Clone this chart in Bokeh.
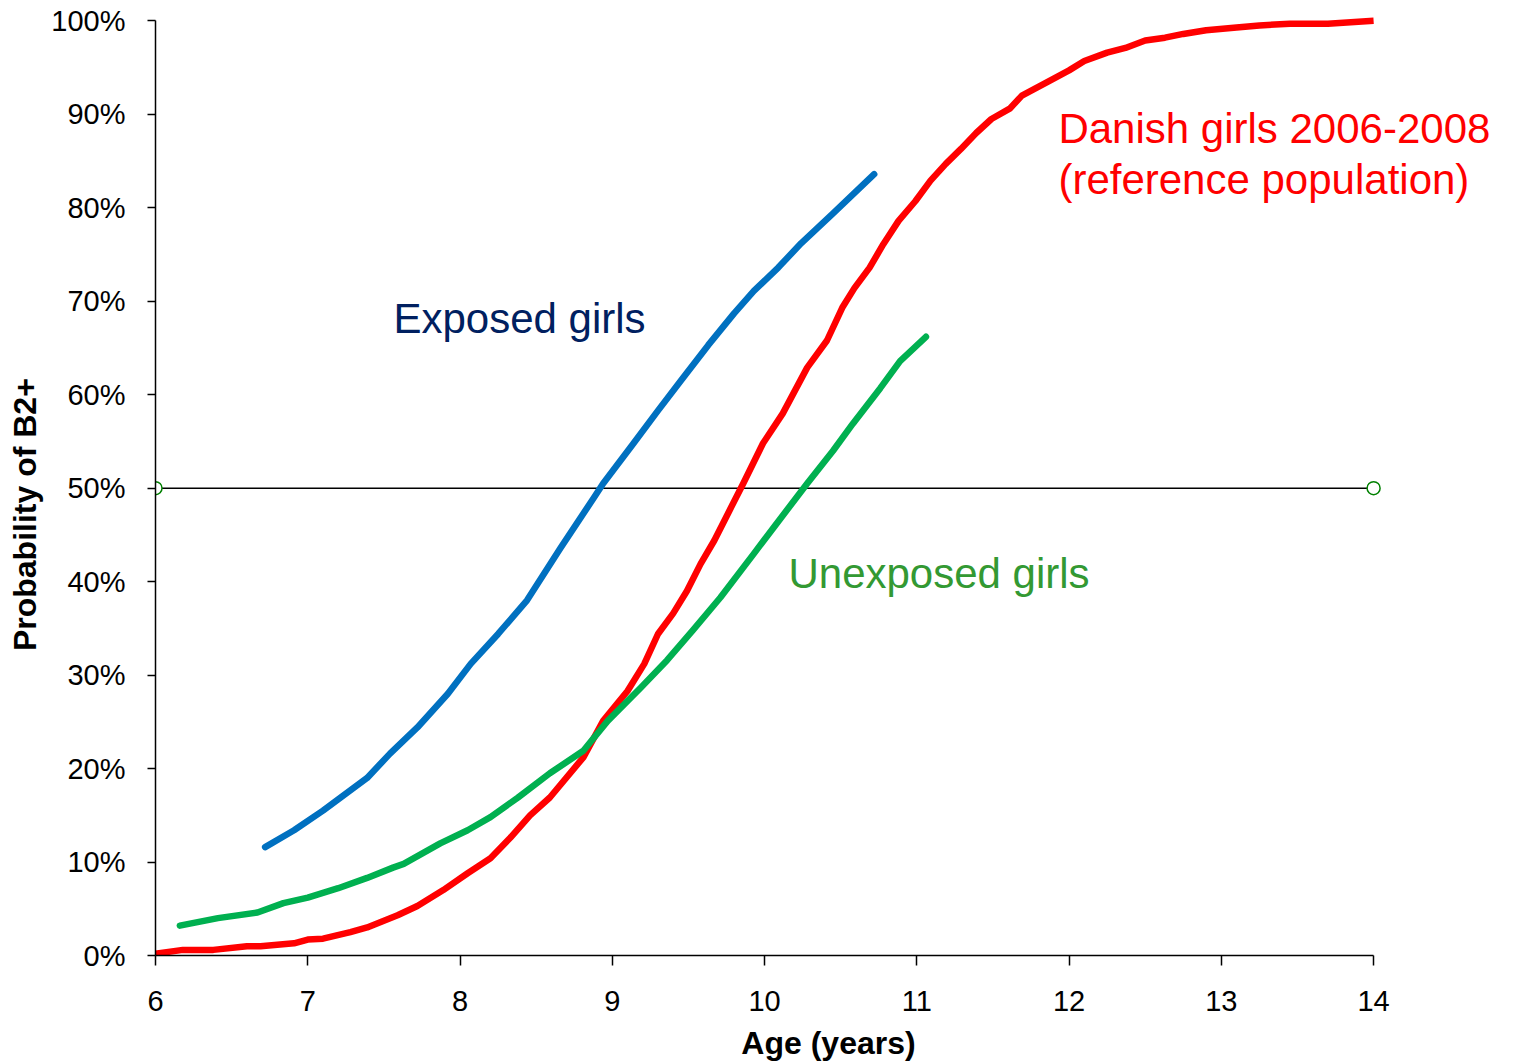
from bokeh.plotting import figure
from bokeh.models import Range1d, FixedTicker, Label
from bokeh.embed import file_html
from bokeh.resources import INLINE

# ---- data ----
ref_age = [6.00, 6.18, 6.38, 6.60, 6.69, 6.91, 7.00, 7.10, 7.28, 7.39,
           7.59, 7.72, 7.89, 8.05, 8.20, 8.33, 8.46, 8.59, 8.81, 8.94,
           9.10, 9.21, 9.30, 9.40, 9.49, 9.58, 9.67, 9.76, 9.86, 9.99,
           10.12, 10.28, 10.41, 10.51, 10.59, 10.69, 10.78, 10.88, 10.99, 11.09,
           11.19, 11.29, 11.39, 11.49, 11.61, 11.69, 11.85, 12.00, 12.10, 12.25,
           12.37, 12.50, 12.63, 12.75, 12.90, 13.10, 13.25, 13.45, 13.70, 14.00]
ref_pct = [0.2, 0.6, 0.6, 1.0, 1.0, 1.3, 1.7, 1.8, 2.5, 3.0,
           4.3, 5.3, 7.0, 8.8, 10.4, 12.6, 15.0, 16.9, 21.2, 25.1,
           28.3, 31.2, 34.4, 36.6, 39.0, 41.9, 44.4, 47.3, 50.5, 54.8,
           58.0, 62.9, 65.8, 69.3, 71.4, 73.6, 76.1, 78.6, 80.7, 82.9,
           84.7, 86.3, 88.0, 89.5, 90.6, 92.0, 93.4, 94.7, 95.7, 96.6,
           97.1, 97.9, 98.2, 98.6, 99.0, 99.3, 99.5, 99.7, 99.7, 100.0]

unexp_age = [6.16, 6.41, 6.67, 6.84, 7.00, 7.20, 7.39, 7.56, 7.63, 7.87,
             8.05, 8.20, 8.38, 8.59, 8.81, 8.97, 9.19, 9.36, 9.53, 9.71,
             9.93, 10.06, 10.28, 10.45, 10.58, 10.76, 10.89, 11.06]
unexp_pct = [3.2, 4.0, 4.6, 5.6, 6.2, 7.2, 8.3, 9.4, 9.8, 12.0,
             13.4, 14.8, 16.9, 19.5, 21.9, 25.1, 28.7, 31.6, 34.8, 38.3,
             43.0, 45.8, 50.5, 54.0, 56.9, 60.7, 63.6, 66.2]

exp_age = [6.72, 6.91, 7.10, 7.39, 7.54, 7.72, 7.92, 8.07, 8.25, 8.44,
           8.66, 8.88, 8.94, 9.14, 9.30, 9.45, 9.63, 9.80, 9.93, 10.09,
           10.24, 10.45, 10.72]
exp_pct = [11.6, 13.4, 15.5, 19.0, 21.6, 24.4, 28.0, 31.2, 34.4, 38.0,
           43.6, 49.0, 50.5, 54.8, 58.3, 61.5, 65.3, 68.7, 71.1, 73.6,
           76.2, 79.4, 83.6]

median_age = [6, 14]
median_pct = [50, 50]

x_ticks = [6, 7, 8, 9, 10, 11, 12, 13, 14]
y_ticks = [0, 10, 20, 30, 40, 50, 60, 70, 80, 90, 100]
y_tick_labels = ["0%", "10%", "20%", "30%", "40%", "50%", "60%", "70%", "80%", "90%", "100%"]

FONT = "Liberation Sans"

p = figure(frame_width=1346, frame_height=944,
           x_range=Range1d(6, 14.84), y_range=Range1d(0, 101),
           output_backend="svg", toolbar_location=None,
           min_border_left=155, min_border_top=11,
           min_border_right=6, min_border_bottom=109)
p.outline_line_color = None
p.grid.grid_line_color = None
p.background_fill_color = "white"
p.border_fill_color = "white"

# axes
xa = p.xaxis[0]
xa.ticker = FixedTicker(ticks=x_ticks)
xa.bounds = (6, 14)
xa.axis_label = "Age (years)"
ya = p.yaxis[0]
ya.ticker = FixedTicker(ticks=y_ticks)
ya.major_label_overrides = {t: l for t, l in zip(y_ticks, y_tick_labels)}
ya.bounds = (0, 100)
# trailing no-break spaces shift the centred title down to where the original sits
ya.axis_label = "Probability of B2+" + "\u00a0" * 7

for ax in (xa, ya):
    ax.axis_line_color = "black"
    ax.axis_line_width = 1.5
    ax.major_tick_line_color = "black"
    ax.major_tick_line_width = 1.5
    ax.major_tick_in = 0
    ax.minor_tick_line_color = None
    ax.major_label_text_font = FONT
    ax.major_label_text_font_size = "29px"
    ax.major_label_text_color = "black"
    ax.axis_label_text_font = FONT
    ax.axis_label_text_font_size = "32px"
    ax.axis_label_text_font_style = "bold"
    ax.axis_label_text_color = "black"

xa.major_tick_out = 10
xa.major_label_standoff = 25
xa.axis_label_standoff = 11
ya.major_tick_out = 8
ya.major_label_standoff = 22
ya.axis_label_standoff = 5

# median reference line
p.line(median_age, median_pct, line_color="black", line_width=1.5)
p.scatter(median_age, median_pct, marker="circle", size=13,
          fill_color="white", line_color="#008000", line_width=1.5)

# curves
p.line(ref_age, ref_pct, line_color="#FF0000", line_width=6.5, line_join="round")
p.line(unexp_age, unexp_pct, line_color="#00B050", line_width=6.5,
       line_join="round", line_cap="round")
p.line(exp_age, exp_pct, line_color="#0070C0", line_width=6.5,
       line_join="round", line_cap="round")

# text labels
def lab(x, y, text, color):
    p.add_layout(Label(x=x, y=y, text=text, text_baseline="middle", text_align="left",
                       text_font=FONT, text_font_size="42px", text_color=color))

lab(7.563, 68.2, "Exposed girls", "#002060")
lab(10.157, 40.9, "Unexposed girls", "#339933")
lab(11.93, 88.5, "Danish girls 2006-2008", "#FF0000")
lab(11.93, 83.0, "(reference population)", "#FF0000")

open("out.html", "w").write(file_html(p, INLINE))
